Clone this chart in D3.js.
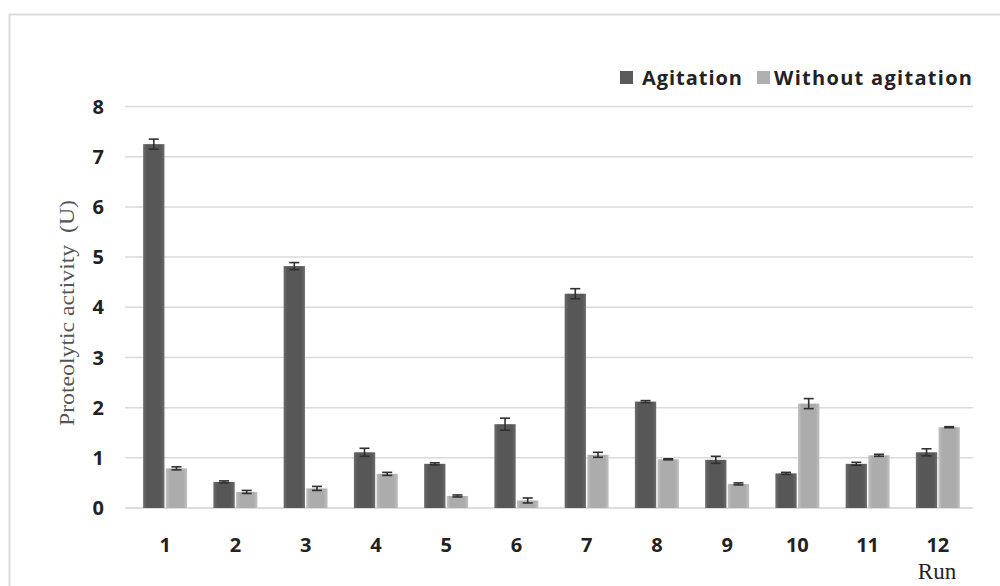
<!DOCTYPE html>
<html><head><meta charset="utf-8">
<script src="https://cdn.jsdelivr.net/npm/d3@7"></script>
<style>body{margin:0;background:#fff}svg{display:block}</style>
</head><body>
<svg id="c" width="1000" height="586"></svg>
<script>
const runs = ["1","2","3","4","5","6","7","8","9","10","11","12"];
const seriesNames = ["Agitation","Without agitation"];
const agitation = [7.25,0.52,4.82,1.11,0.88,1.67,4.27,2.12,0.96,0.69,0.88,1.11];
const agitationErr = [0.1,0.02,0.07,0.08,0.02,0.12,0.1,0.02,0.07,0.02,0.03,0.07];
const withoutAgitation = [0.79,0.32,0.39,0.68,0.24,0.15,1.06,0.97,0.48,2.08,1.05,1.61];
const withoutErr = [0.03,0.03,0.04,0.03,0.02,0.05,0.05,0.01,0.02,0.1,0.02,0.01];
const yTicks = [0,1,2,3,4,5,6,7,8];

const svg = d3.select("#c");
const defs = svg.append("defs");
function grad(id, edge, mid){
  const g = defs.append("linearGradient").attr("id",id).attr("x1","0").attr("x2","1").attr("y1","0").attr("y2","0");
  [[0,edge],[0.18,mid],[0.82,mid],[1,edge]].forEach(s=>g.append("stop").attr("offset",s[0]).attr("stop-color",s[1]));
}
grad("gDark","#6c6c6c","#575757");
grad("gLight","#c0c0c0","#acacac");
const colors = ["url(#gDark)","url(#gLight)"];
const legendColors = ["#5a5a5a","#b0b0b0"];
const sans = "'Open Sans', Lato, sans-serif";

// frame
svg.append("path").attr("d","M9.5,586 L9.5,14.5 L1000,14.5").attr("fill","none").attr("stroke","#dcdcdc").attr("stroke-width",2);

const x = d3.scaleBand().domain(runs).range([130,973]).paddingInner(0.374).paddingOuter(0.187);
const x1 = d3.scaleBand().domain(seriesNames).range([0,x.bandwidth()]).paddingInner(0.06);
const y = d3.scaleLinear().domain([0,8]).range([508,106.5]);

// gridlines
svg.append("g").selectAll("line").data(yTicks).join("line")
  .attr("x1",125).attr("x2",973).attr("y1",d=>y(d)).attr("y2",d=>y(d))
  .attr("stroke",d=>d===0?"#d0d0d0":"#dadada").attr("stroke-width",1.5);

// y tick labels
svg.append("g").selectAll("text").data(yTicks).join("text")
  .attr("x",104).attr("y",d=>y(d)).attr("dy","0.36em").attr("text-anchor","end")
  .attr("font-family",sans).attr("font-weight","bold").attr("font-size",20).attr("fill","#222")
  .text(d=>d);

// bars
const data = [];
runs.forEach((r,i)=>{
  data.push({run:r, s:seriesNames[0], v:agitation[i], e:agitationErr[i], k:0});
  data.push({run:r, s:seriesNames[1], v:withoutAgitation[i], e:withoutErr[i], k:1});
});
svg.append("g").selectAll("rect").data(data).join("rect")
  .attr("x",d=>x(d.run)+x1(d.s)).attr("width",x1.bandwidth())
  .attr("y",d=>y(d.v)).attr("height",d=>y(0)-y(d.v))
  .attr("fill",d=>colors[d.k]);

// error bars
const eb = svg.append("g").attr("stroke","#303030").attr("stroke-width",1.6);
data.forEach(d=>{
  const cx = x(d.run)+x1(d.s)+x1.bandwidth()/2;
  eb.append("line").attr("x1",cx).attr("x2",cx).attr("y1",y(d.v-d.e)).attr("y2",y(d.v+d.e));
  eb.append("line").attr("x1",cx-5).attr("x2",cx+5).attr("y1",y(d.v+d.e)).attr("y2",y(d.v+d.e));
  eb.append("line").attr("x1",cx-5).attr("x2",cx+5).attr("y1",y(d.v-d.e)).attr("y2",y(d.v-d.e));
});

// x labels
svg.append("g").selectAll("text").data(runs).join("text")
  .attr("x",d=>x(d)+x.bandwidth()/2).attr("y",545).attr("dy","0.36em").attr("text-anchor","middle")
  .attr("font-family",sans).attr("font-weight","bold").attr("font-size",20).attr("fill","#222")
  .text(d=>d);

svg.append("text").attr("x",937).attr("y",571).attr("dy","0.36em").attr("text-anchor","middle")
  .attr("font-family","'Liberation Serif', serif").attr("font-size",23).attr("fill","#222").text("Run");

// y title
svg.append("text").attr("transform","translate(67,313) rotate(-90)").attr("dy","0.34em").attr("text-anchor","middle")
  .attr("font-family","'Liberation Serif', serif").attr("font-size",21).attr("fill","#555")
  .attr("textLength",226).attr("lengthAdjust","spacingAndGlyphs")
  .attr("xml:space","preserve").text("Proteolytic activity  (U)");

// legend
const leg = [{n:seriesNames[0], sq:620, tx:642, w:100},{n:seriesNames[1], sq:757, tx:774, w:198}];
leg.forEach((l,i)=>{
  svg.append("rect").attr("x",l.sq).attr("y",71).attr("width",13).attr("height",13).attr("fill",legendColors[i]);
  svg.append("text").attr("x",l.tx).attr("y",78).attr("dy","0.36em")
    .attr("font-family",sans).attr("font-weight","bold").attr("font-size",20).attr("fill","#222")
    .attr("textLength",l.w).attr("lengthAdjust","spacing").text(l.n);
});
</script>
</body></html>
